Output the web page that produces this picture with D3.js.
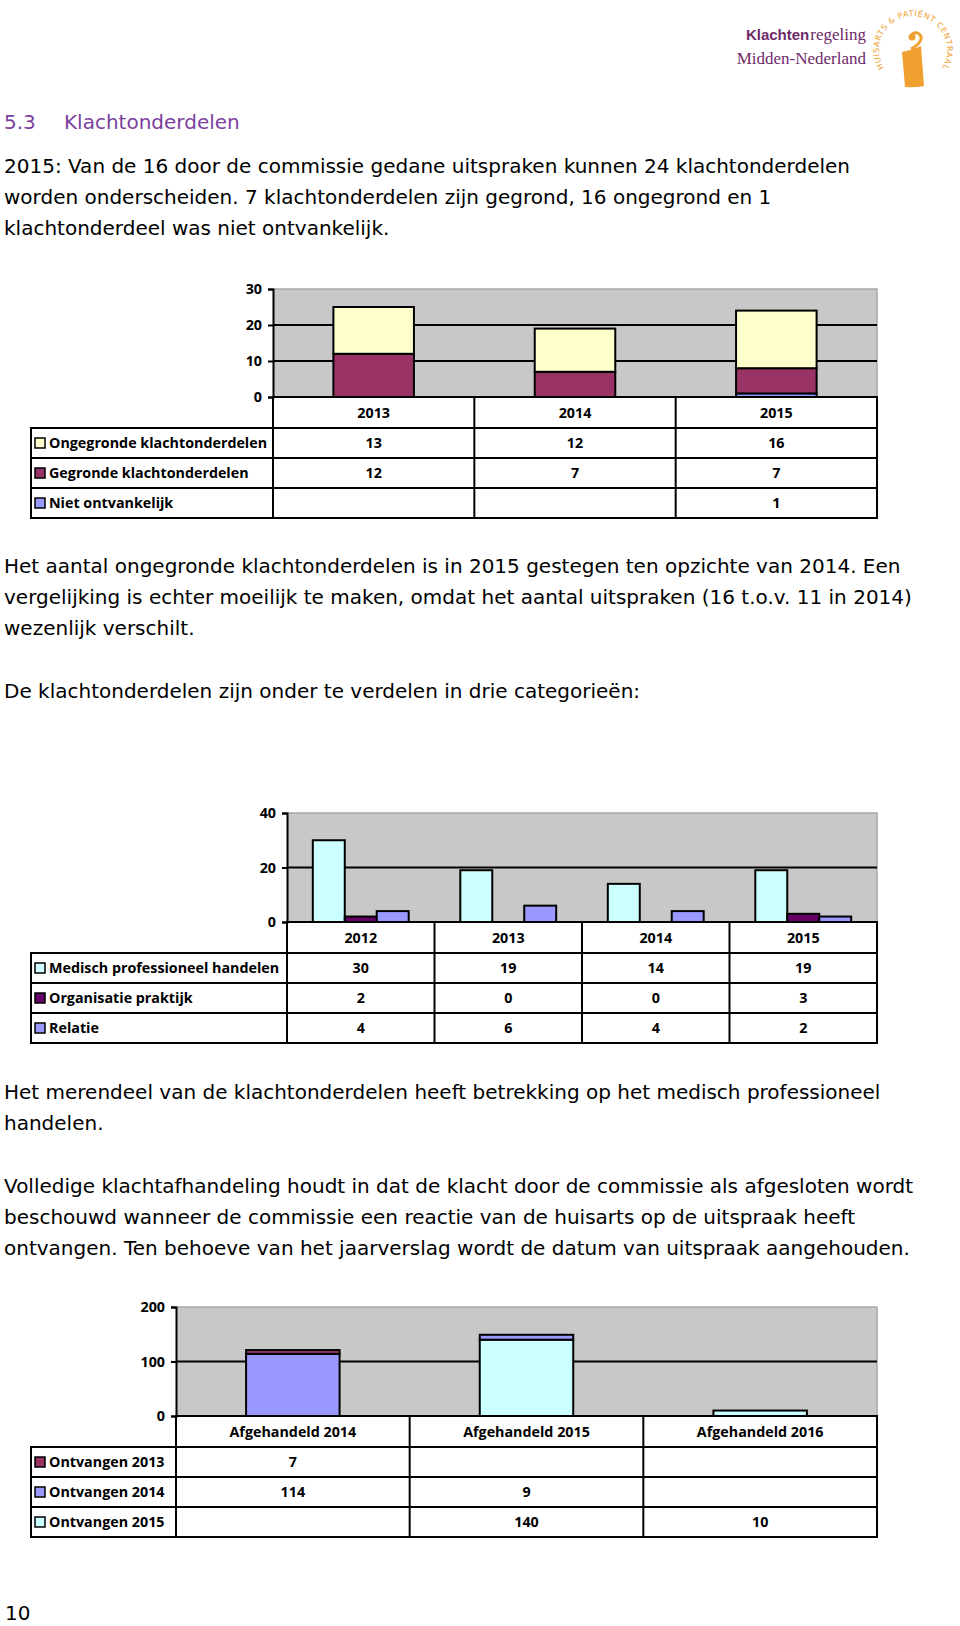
<!DOCTYPE html>
<html>
<head>
<meta charset="utf-8">
<script src="https://cdn.jsdelivr.net/npm/d3@7"></script>
<style>
  body { margin: 0; background: #fff; }
  svg { display: block; }
  .body-text { font-family: "DejaVu Sans", Verdana, sans-serif; font-size: 20px; fill: #000; }
  .heading { font-family: "DejaVu Sans", Verdana, sans-serif; font-size: 20px; fill: #7b3f9e; }
  .chart text { font-family: "Liberation Sans Narrow", "Open Sans", sans-serif; font-weight: bold; font-size: 14.3px; fill: #000; }
</style>
</head>
<body>
<svg id="page" width="960" height="1626"></svg>
<script>
// --- chart 1: klachtonderdelen per jaar
const years1 = ["2013", "2014", "2015"];
const series1 = ["Ongegronde klachtonderdelen", "Gegronde klachtonderdelen", "Niet ontvankelijk"];
const ongegronde1 = [13, 12, 16];
const gegronde1 = [12, 7, 7];
const nietOntvankelijk1 = [null, null, 1];
const ticks1 = [0, 10, 20, 30];

// --- chart 2: categorieen
const years2 = ["2012", "2013", "2014", "2015"];
const series2 = ["Medisch professioneel handelen", "Organisatie praktijk", "Relatie"];
const medisch2 = [30, 19, 14, 19];
const organisatie2 = [2, 0, 0, 3];
const relatie2 = [4, 6, 4, 2];
const ticks2 = [0, 20, 40];

// --- chart 3: afhandeling
const periods3 = ["Afgehandeld 2014", "Afgehandeld 2015", "Afgehandeld 2016"];
const series3 = ["Ontvangen 2013", "Ontvangen 2014", "Ontvangen 2015"];
const ontvangen2013 = [7, null, null];
const ontvangen2014 = [114, 9, null];
const ontvangen2015 = [null, 140, 10];
const ticks3 = [0, 100, 200];

const svg = d3.select("#page");

// ---------- logo ----------
const logo = svg.append("g");
const purple = "#6e2a6a";
const regeling = logo.append("text")
  .attr("x", 866).attr("y", 40).attr("text-anchor", "end")
  .style("font-family", "'Liberation Serif', serif").style("font-size", "17px").style("fill", purple)
  .text("regeling");
const regW = regeling.node().getComputedTextLength();
logo.append("text")
  .attr("x", 866 - regW - 1).attr("y", 40).attr("text-anchor", "end")
  .style("font-family", "'Liberation Sans', sans-serif").style("font-weight", "bold").style("font-size", "15px")
  .style("fill", purple).text("Klachten");
logo.append("text")
  .attr("x", 866).attr("y", 64).attr("text-anchor", "end")
  .style("font-family", "'Liberation Serif', serif").style("font-size", "17px").style("fill", purple)
  .text("Midden-Nederland");

const orange = "#f0a030";
logo.append("path").attr("id", "logoArc")
  .attr("d", "M 891 76 A 34 34 0 1 1 935 76")
  .attr("fill", "none");
logo.append("text")
  .style("font-family", "'DejaVu Sans', sans-serif").style("font-size", "8px").style("fill", orange)
  .style("letter-spacing", "0.6px")
  .append("textPath").attr("href", "#logoArc").attr("startOffset", "50%").attr("text-anchor", "middle")
  .text("HUISARTS & PATIËNT CENTRAAL");
logo.append("path")
  .attr("d", "M 902 52 Q 912 50 921 46 L 924 86 Q 914 88 905 87 Z")
  .attr("fill", orange);
logo.append("path")
  .attr("d", "M 911 49 C 920 44, 924 38, 919 34 C 914 31, 909 35, 914 38")
  .attr("fill", "none").attr("stroke", orange).attr("stroke-width", 3);
logo.append("circle").attr("cx", 912).attr("cy", 37).attr("r", 3.5).attr("fill", orange);

// ---------- text blocks ----------
svg.append("text").attr("class", "heading").attr("x", 4).attr("y", 129).text("5.3");
svg.append("text").attr("class", "heading").attr("x", 64).attr("y", 129).text("Klachtonderdelen");

const paragraphs = [
  { y: 173, lines: [
    "2015: Van de 16 door de commissie gedane uitspraken kunnen 24 klachtonderdelen",
    "worden onderscheiden. 7 klachtonderdelen zijn gegrond, 16 ongegrond en 1",
    "klachtonderdeel was niet ontvankelijk."] },
  { y: 573, lines: [
    "Het aantal ongegronde klachtonderdelen is in 2015 gestegen ten opzichte van 2014. Een",
    "vergelijking is echter moeilijk te maken, omdat het aantal uitspraken (16 t.o.v. 11 in 2014)",
    "wezenlijk verschilt."] },
  { y: 698, lines: ["De klachtonderdelen zijn onder te verdelen in drie categorieën:"] },
  { y: 1099, lines: [
    "Het merendeel van de klachtonderdelen heeft betrekking op het medisch professioneel",
    "handelen."] },
  { y: 1193, lines: [
    "Volledige klachtafhandeling houdt in dat de klacht door de commissie als afgesloten wordt",
    "beschouwd wanneer de commissie een reactie van de huisarts op de uitspraak heeft",
    "ontvangen. Ten behoeve van het jaarverslag wordt de datum van uitspraak aangehouden."] }
];
paragraphs.forEach(p => {
  p.lines.forEach((l, i) => {
    svg.append("text").attr("class", "body-text").attr("x", 4).attr("y", p.y + i * 31).text(l);
  });
});
svg.append("text").attr("class", "body-text").attr("x", 5).attr("y", 1620).text("10");

// ---------- chart helper ----------
function drawChart(cfg) {
  const g = svg.append("g").attr("class", "chart");
  const { left, right, top, bottom, labelLeft, rowH, headH } = cfg;

  const y = d3.scaleLinear().domain(d3.extent(cfg.ticks)).range([bottom, top]);
  const cols = d3.scaleBand().domain(cfg.categories).range([left, right]);

  // plot area
  g.append("rect").attr("x", left).attr("y", top).attr("width", right - left).attr("height", bottom - top)
    .attr("fill", "#c8c8c8");
  g.append("path").attr("d", `M${left},${top}H${right}V${bottom}`)
    .attr("fill", "none").attr("stroke", "#a8a8a8").attr("stroke-width", 1.5);

  // gridlines
  g.append("g").selectAll("line").data(cfg.ticks.filter(t => t > 0 && t < cfg.ticks[cfg.ticks.length - 1]))
    .join("line")
    .attr("x1", left).attr("x2", right)
    .attr("y1", d => y(d)).attr("y2", d => y(d))
    .attr("stroke", "#000").attr("stroke-width", 2);

  // bars
  cfg.drawBars(g, y);

  // y axis
  const ax = g.append("g").attr("transform", `translate(${left},0)`)
    .call(d3.axisLeft(y).tickValues(cfg.ticks).tickSize(5).tickPadding(6).tickFormat(d3.format("d")));
  ax.select(".domain").attr("stroke", "#000").attr("stroke-width", 2);
  ax.selectAll(".tick line").attr("stroke", "#000").attr("stroke-width", 2);
  ax.selectAll(".tick text").attr("font-family", null).attr("font-size", null).style("font-size", "14.3px");

  // data table
  const tb = g.append("g");
  const nRows = cfg.series.length;
  const tableBottom = bottom + headH + nRows * rowH;
  const rowY = i => bottom + headH + i * rowH;

  // header cells
  tb.selectAll(".hdr").data(cfg.categories).join("text")
    .attr("x", d => cols(d) + cols.bandwidth() / 2)
    .attr("y", bottom + headH / 2 + 5)
    .attr("text-anchor", "middle").text(d => d);

  // row labels with legend keys
  cfg.series.forEach((s, i) => {
    tb.append("rect").attr("x", labelLeft + 4).attr("y", rowY(i) + rowH / 2 - 5)
      .attr("width", 10).attr("height", 10)
      .attr("fill", cfg.colors[i]).attr("stroke", "#000").attr("stroke-width", 1.5);
    tb.append("text").attr("x", labelLeft + 18).attr("y", rowY(i) + rowH / 2 + 5).text(s);
    tb.selectAll(null).data(cfg.values[i]).join("text")
      .attr("x", (d, j) => cols(cfg.categories[j]) + cols.bandwidth() / 2)
      .attr("y", rowY(i) + rowH / 2 + 5)
      .attr("text-anchor", "middle")
      .text(d => d == null ? "" : d);
  });

  // table lines
  const lines = [];
  lines.push([left, bottom, right, bottom]);
  for (let i = 0; i <= nRows; i++) lines.push([labelLeft, rowY(i), right, rowY(i)]);
  lines.push([labelLeft, rowY(0), labelLeft, tableBottom]);
  cfg.categories.forEach(c => lines.push([cols(c), bottom, cols(c), tableBottom]));
  lines.push([right, bottom, right, tableBottom]);
  tb.selectAll("line").data(lines).join("line")
    .attr("x1", d => d[0]).attr("y1", d => d[1]).attr("x2", d => d[2]).attr("y2", d => d[3])
    .attr("stroke", "#000").attr("stroke-width", 2).attr("stroke-linecap", "square");
}

function stackedBars(categories, values, colors, left, right) {
  // stack order bottom -> top is the reverse of the table order
  return (g, y) => {
    const x = d3.scaleBand().domain(categories).range([left, right]).paddingInner(0.6).paddingOuter(0.3);
    const keys = values.map((_, i) => i).reverse();
    const rows = categories.map((c, j) => {
      const r = { cat: c };
      values.forEach((v, i) => { r[i] = v[j] || 0; });
      return r;
    });
    const stacked = d3.stack().keys(keys)(rows);
    stacked.forEach(layer => {
      g.append("g").selectAll("rect").data(layer.filter(d => d[1] > d[0])).join("rect")
        .attr("x", d => x(d.data.cat))
        .attr("width", x.bandwidth())
        .attr("y", d => y(d[1]))
        .attr("height", d => y(d[0]) - y(d[1]))
        .attr("fill", colors[layer.key])
        .attr("stroke", "#000").attr("stroke-width", 2);
    });
  };
}

// ---------- chart 1 ----------
const colors1 = ["#ffffcc", "#993366", "#9999ff"];
drawChart({
  categories: years1, series: series1, values: [ongegronde1, gegronde1, nietOntvankelijk1],
  colors: colors1, ticks: ticks1,
  left: 273, right: 877, top: 289, bottom: 397, labelLeft: 31, headH: 31, rowH: 30,
  drawBars: stackedBars(years1, [ongegronde1, gegronde1, nietOntvankelijk1], colors1, 273, 877)
});

// ---------- chart 2 ----------
const colors2 = ["#ccffff", "#660066", "#9999ff"];
const values2 = [medisch2, organisatie2, relatie2];
drawChart({
  categories: years2, series: series2, values: values2,
  colors: colors2, ticks: ticks2,
  left: 287, right: 877, top: 813, bottom: 922, labelLeft: 31, headH: 31, rowH: 30,
  drawBars: (g, y) => {
    const x0 = d3.scaleBand().domain(years2).range([287, 877]).paddingInner(0.35).paddingOuter(0.175);
    const x1 = d3.scaleBand().domain(series2).range([0, x0.bandwidth()]);
    years2.forEach((yr, j) => {
      g.append("g").attr("transform", `translate(${x0(yr)},0)`)
        .selectAll("rect").data(series2.map((s, i) => ({ s, i, v: values2[i][j] })).filter(d => d.v > 0))
        .join("rect")
        .attr("x", d => x1(d.s)).attr("width", x1.bandwidth())
        .attr("y", d => y(d.v)).attr("height", d => y(0) - y(d.v))
        .attr("fill", d => colors2[d.i]).attr("stroke", "#000").attr("stroke-width", 2);
    });
  }
});

// ---------- chart 3 ----------
const colors3 = ["#993366", "#9999ff", "#ccffff"];
const values3 = [ontvangen2013, ontvangen2014, ontvangen2015];
drawChart({
  categories: periods3, series: series3, values: values3,
  colors: colors3, ticks: ticks3,
  left: 176, right: 877, top: 1307, bottom: 1416, labelLeft: 31, headH: 31, rowH: 30,
  drawBars: stackedBars(periods3, values3, colors3, 176, 877)
});
</script>
</body>
</html>
